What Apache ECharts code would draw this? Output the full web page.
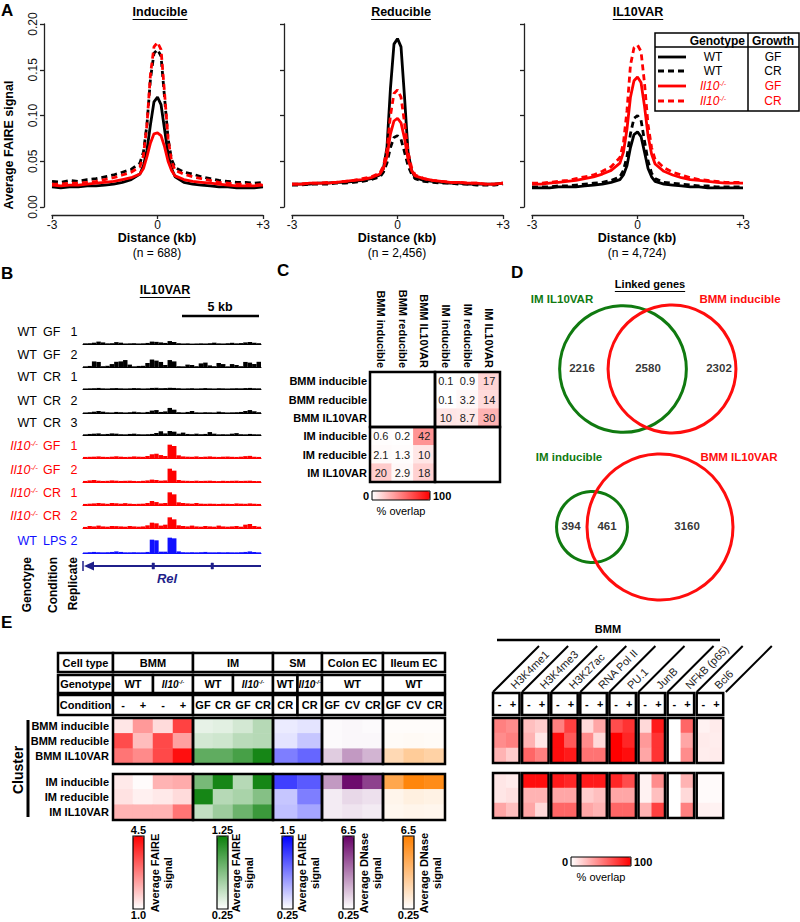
<!DOCTYPE html>
<html><head><meta charset="utf-8">
<script src="https://cdn.jsdelivr.net/npm/echarts@6/dist/echarts.min.js"></script>
<style>html,body{margin:0;padding:0;background:#fff}#c{width:800px;height:922px}</style>
</head><body><div id="c"></div>
<script>
// ---------------- DATA ----------------
// Panel A: average FAIRE profiles (distance in kb)
const distanceKb = [-3,-2.75,-2.5,-2.25,-2,-1.75,-1.5,-1.25,-1,-0.75,-0.5,-0.4,-0.3,-0.2,-0.1,0,0.1,0.2,0.3,0.4,0.5,0.75,1,1.25,1.5,1.75,2,2.25,2.5,2.75,3];
const profileNames = ['WT GF','WT CR','Il10-/- GF','Il10-/- CR'];
const panelATitles = ['Inducible','Reducible','IL10VAR'];
const panelACounts = ['(n = 688)','(n = 2,456)','(n = 4,724)'];
const inducibleWtGf = [0.022,0.021,0.022,0.022,0.023,0.023,0.024,0.025,0.027,0.03,0.036,0.045,0.062,0.09,0.115,0.12,0.112,0.085,0.058,0.042,0.033,0.027,0.025,0.024,0.023,0.022,0.022,0.021,0.021,0.021,0.022];
const inducibleWtCr = [0.028,0.027,0.029,0.028,0.03,0.031,0.033,0.035,0.038,0.041,0.048,0.06,0.09,0.14,0.168,0.172,0.165,0.12,0.075,0.052,0.043,0.038,0.036,0.033,0.031,0.029,0.028,0.027,0.027,0.026,0.027];
const inducibleKoGf = [0.024,0.023,0.024,0.024,0.025,0.026,0.027,0.028,0.03,0.032,0.036,0.042,0.055,0.07,0.08,0.081,0.078,0.066,0.05,0.04,0.034,0.03,0.028,0.027,0.026,0.025,0.024,0.023,0.023,0.023,0.024];
const inducibleKoCr = [0.025,0.025,0.026,0.026,0.027,0.028,0.03,0.032,0.035,0.038,0.044,0.056,0.09,0.145,0.175,0.18,0.172,0.125,0.075,0.05,0.04,0.036,0.033,0.031,0.029,0.027,0.026,0.025,0.025,0.024,0.025];
const reducibleWtGf = [0.025,0.025,0.025,0.026,0.026,0.027,0.027,0.028,0.029,0.031,0.035,0.042,0.065,0.13,0.178,0.184,0.175,0.12,0.06,0.04,0.032,0.029,0.028,0.027,0.026,0.026,0.025,0.025,0.025,0.025,0.026];
const reducibleWtCr = [0.024,0.024,0.025,0.025,0.025,0.026,0.026,0.027,0.028,0.03,0.033,0.038,0.048,0.065,0.076,0.078,0.074,0.06,0.045,0.036,0.031,0.028,0.027,0.026,0.026,0.025,0.025,0.024,0.024,0.024,0.025];
const reducibleKoGf = [0.025,0.025,0.026,0.026,0.026,0.027,0.028,0.029,0.03,0.032,0.036,0.042,0.055,0.08,0.094,0.097,0.092,0.075,0.052,0.04,0.034,0.031,0.029,0.028,0.027,0.027,0.026,0.026,0.025,0.025,0.026];
const reducibleKoCr = [0.025,0.025,0.026,0.026,0.027,0.027,0.028,0.029,0.031,0.033,0.037,0.045,0.062,0.1,0.124,0.128,0.12,0.092,0.06,0.043,0.035,0.031,0.029,0.028,0.027,0.027,0.026,0.026,0.025,0.025,0.026];
const il10varWtGf = [0.021,0.021,0.021,0.022,0.022,0.022,0.023,0.024,0.025,0.027,0.03,0.035,0.045,0.065,0.079,0.082,0.077,0.06,0.042,0.033,0.028,0.025,0.024,0.023,0.022,0.022,0.021,0.021,0.021,0.021,0.021];
const il10varWtCr = [0.022,0.022,0.022,0.023,0.023,0.024,0.025,0.026,0.027,0.029,0.033,0.04,0.055,0.08,0.097,0.1,0.095,0.072,0.05,0.037,0.031,0.027,0.026,0.025,0.024,0.023,0.023,0.022,0.022,0.022,0.022];
const il10varKoGf = [0.025,0.025,0.026,0.027,0.028,0.029,0.031,0.033,0.036,0.04,0.048,0.06,0.085,0.12,0.138,0.142,0.136,0.11,0.078,0.058,0.047,0.039,0.035,0.032,0.03,0.029,0.028,0.027,0.026,0.026,0.026];
const il10varKoCr = [0.026,0.026,0.027,0.028,0.029,0.031,0.033,0.035,0.039,0.044,0.054,0.07,0.105,0.155,0.174,0.177,0.17,0.135,0.09,0.065,0.052,0.043,0.038,0.035,0.032,0.03,0.029,0.028,0.027,0.027,0.027];

// Panel B: browser tracks (40 bins across the locus)
const trackGenotype = ['WT','WT','WT','WT','WT','KO','KO','KO','KO','WT'];
const trackCondition = ['GF','GF','CR','CR','CR','GF','GF','CR','CR','LPS'];
const trackReplicate = ['1','2','1','2','3','1','2','1','2','2'];
const trackWtGf1 = [0.5,0.6,1.0,1.8,1.2,0.5,0.6,1.4,1.0,0.4, 0.5,0.6,0.4,0.5,0.8,1.8,1.6,1.2,0.8,2.2, 1.5,0.6,0.4,0.5,0.3,0.4,0.5,0.4,0.6,1.0, 0.5,0.4,0.6,0.9,0.5,0.7,1.2,1.5,1.0,0.6];
const trackWtGf2 = [0.5,0.8,4.2,3.8,0.6,0.9,2.2,3.9,4.2,5.2, 1.8,0.5,0.8,0.9,3.0,5.6,4.8,3.8,1.5,5.2, 4.2,0.6,0.5,1.8,1.5,0.6,2.7,3.3,1.2,0.6, 3.0,2.2,0.5,2.2,1.5,0.6,3.8,3.3,2.2,3.9];
const trackWtCr1 = [0.4,0.5,0.6,0.8,0.5,0.4,0.6,0.7,0.5,0.4, 0.5,0.7,0.6,0.4,0.5,0.8,0.9,0.6,0.7,0.9, 0.8,0.6,0.4,0.5,0.6,0.4,0.5,0.7,0.5,0.4, 0.6,0.5,0.4,0.5,0.6,0.5,0.7,0.8,0.6,0.5];
const trackWtCr2 = [0.4,0.6,1.0,1.5,1.0,0.5,0.4,0.8,0.6,0.4, 0.6,1.0,0.6,0.4,0.8,1.8,2.2,0.8,1.2,3.8, 2.5,0.6,0.4,0.8,1.5,0.5,0.4,0.6,0.5,0.4, 1.0,0.6,0.4,0.5,0.6,0.8,1.5,2.2,1.4,0.6];
const trackWtCr3 = [0.5,0.8,1.0,1.2,0.6,0.8,1.2,1.0,0.6,0.5, 0.8,1.0,0.6,0.5,0.6,0.8,1.5,2.8,1.2,3.0, 2.5,1.0,1.8,0.8,0.6,1.0,0.6,0.8,2.2,1.0, 0.5,0.6,0.5,1.0,1.4,0.6,0.5,0.8,0.6,0.5];
const trackKoGf1 = [0.8,0.9,1.0,1.2,0.9,0.8,1.0,1.3,1.0,0.8, 0.9,1.2,1.0,0.9,1.5,2.8,3.2,2.2,1.5,10.0, 9.0,2.0,1.2,1.0,0.9,1.2,0.8,1.0,1.2,0.9, 0.8,1.0,1.1,0.9,0.8,1.0,1.4,1.6,1.0,0.8];
const trackKoGf2 = [0.8,1.2,1.5,1.0,0.8,0.9,1.2,1.0,0.8,0.9, 1.0,0.8,0.7,0.9,1.2,1.8,1.5,1.0,1.2,10.0, 8.5,1.5,1.0,0.9,0.8,1.0,0.8,0.9,1.0,0.8, 0.7,0.9,0.8,0.9,1.0,0.8,0.9,1.0,0.8,0.7];
const trackKoCr1 = [0.8,1.0,1.2,1.5,1.2,0.9,1.5,1.3,1.0,1.4, 1.0,0.8,0.9,1.0,1.5,3.0,2.2,1.2,1.5,9.5, 8.0,2.0,1.5,1.2,1.0,1.5,1.0,0.9,1.0,0.9, 0.8,1.0,0.9,0.8,1.2,1.0,0.9,1.2,1.0,0.8];
const trackKoCr2 = [0.8,1.5,1.2,1.8,1.2,1.0,1.5,1.4,1.2,1.0, 1.5,1.2,1.0,1.2,2.0,4.0,3.5,1.8,2.5,8.0, 6.5,2.0,1.5,1.2,1.8,1.2,1.0,1.5,1.2,1.0, 1.8,1.2,1.0,1.2,1.5,1.0,2.5,3.0,1.5,1.0];
const trackWtLps2 = [0.4,0.6,0.8,0.6,0.5,0.6,0.8,1.2,0.8,0.5, 0.5,0.6,0.5,0.5,0.8,10.0,9.5,1.0,1.0,11.5, 11.0,1.2,0.6,0.5,0.6,0.5,0.6,0.8,0.5,0.5, 0.6,0.5,0.6,0.5,0.5,0.6,0.8,1.2,0.8,0.5];

// Panel C: % overlap matrix
const overlapLabels = ['BMM inducible','BMM reducible','BMM IL10VAR','IM inducible','IM reducible','IM IL10VAR'];
const bmmVsImOverlap = [[0.1,0.9,17],[0.1,3.2,14],[10,8.7,30]];
const imVsBmmOverlap = [[0.6,0.2,42],[2.1,1.3,10],[20,2.9,18]];

// Panel D: linked genes venns  [only left, both, only right]
const vennOneSets = ['IM IL10VAR','BMM inducible'];
const vennOneCounts = [2216, 2580, 2302];
const vennTwoSets = ['IM inducible','BMM IL10VAR'];
const vennTwoCounts = [394, 461, 3160];

// Panel E: cluster heatmaps
const clusterRows = ['BMM inducible','BMM reducible','BMM IL10VAR','IM inducible','IM reducible','IM IL10VAR'];
const cellTypes = ['BMM','IM','SM','Colon EC','Ileum EC'];
const conditionBMM = ['-','+','-','+'];
const conditionIM = ['GF','CR','GF','CR'];
const conditionSM = ['CR','CR'];
const conditionColon = ['GF','CV','CR'];
const conditionIleum = ['GF','CV','CR'];
const bmmFaireValues = [[1.35,2.4,1.5,3.6],[3.45,1.9,3.5,2.3],[2.9,2.6,3.5,4.3],[1.3,1.05,2.05,2.15],[1.4,1.2,1.3,1.5],[2.05,2.05,2.05,2.9]];
const imFaireValues = [[0.35,0.37,0.43,0.55],[0.43,0.45,0.53,0.55],[0.9,0.9,1.0,1.2],[0.8,1.2,0.55,1.2],[1.2,0.55,0.6,0.75],[0.5,0.65,0.85,1.05]];
const smFaireValues = [[0.35,0.38],[0.38,0.53],[0.88,1.0],[1.19,1.06],[0.53,0.88],[0.56,0.69]];
const colonDnaseValues = [[0.38,0.44,0.38],[0.38,0.44,0.44],[1.5,2.75,2.1],[2.75,6.2,4.9],[0.75,1.2,1.0],[0.75,0.9,0.75]];
const ileumDnaseValues = [[0.38,0.38,0.38],[0.44,0.5,0.44],[2.1,2.75,2.45],[4.6,6.2,5.9],[0.75,1.0,0.9],[0.63,0.75,0.69]];
const scaleRanges = [[1.0,4.5],[0.25,1.25],[0.25,1.5],[0.25,6.5],[0.25,6.5]];
const scaleLabels = [['4.5','1.0'],['1.25','0.25'],['1.5','0.25'],['6.5','0.25'],['6.5','0.25']];
const scaleTitles = ['Average FAIRE\nsignal','Average FAIRE\nsignal','Average FAIRE\nsignal','Average DNase\nsignal','Average DNase\nsignal'];
const chipMarks = ['H3K4me1','H3K4me3','H3K27ac','RNA Pol II','PU.1','JunB','NFkB (p65)','Bcl6'];
const chipOverlap = [
  [50,45, 25,20, 50,75, 15,35, 70,80, 15,90, 0,60, 5,8],
  [45,50, 30,10, 95,65, 45,15, 100,85, 40,80, 0,35, 8,7],
  [30,20, 60,50, 95,90, 55,55, 100,95, 35,80, 0,45, 7,8],
  [10,8, 95,95, 90,85, 90,90, 85,70, 5,45, 0,30, 2,2],
  [10,12, 30,30, 35,35, 20,25, 35,35, 5,25, 0,15, 2,2],
  [35,25, 35,15, 60,60, 35,30, 60,60, 30,75, 0,50, 6,5]
];

// ---------------- LAYOUT / HELPERS ----------------
const FF = '"Liberation Sans", Arial, Helvetica, sans-serif';
const mctx = document.createElement('canvas').getContext('2d');
function textW(t, size, weight) { mctx.font = (weight || 'normal') + ' ' + size + 'px "Liberation Sans"'; return mctx.measureText(t).width; }
const grids = [], xAxes = [], yAxes = [], series = [], visualMaps = [], G = [];
function txt(x, y, text, o) {
  o = o || {};
  const st = { text: text, fill: o.color || '#000', fontFamily: FF, fontSize: o.size || 11,
    fontWeight: o.bold ? 'bold' : 'normal', fontStyle: o.italic ? 'italic' : 'normal',
    align: o.align || 'center', verticalAlign: o.va || 'middle' };
  if (o.rich) st.rich = o.rich;
  if (o.lh) st.lineHeight = o.lh;
  G.push({ type: 'text', x: x, y: y, z: o.z || 60, silent: true, rotation: o.rot || 0, style: st });
}
function ln(x1, y1, x2, y2, o) {
  o = o || {};
  G.push({ type: 'line', z: o.z || 60, silent: true, shape: { x1: x1, y1: y1, x2: x2, y2: y2 },
    style: { stroke: o.color || '#000', lineWidth: o.w || 1, lineDash: o.dash || null } });
}
function rc(x, y, w, h, o) {
  o = o || {};
  G.push({ type: 'rect', z: o.z || 58, silent: true, shape: { x: x, y: y, width: w, height: h },
    style: { fill: o.fill || 'none', stroke: o.stroke || '#000', lineWidth: o.w == null ? 2.5 : o.w } });
}
function underlined(cx, y, text, size) {
  txt(cx, y, text, { bold: 1, size: size });
  const w = textW(text, size, 'bold');
  ln(cx - w / 2, y + 7.5, cx + w / 2, y + 7.5, { w: 1.2 });
}
function koRich(color, size, weight) {
  return {
    it: { fontStyle: 'italic', fontSize: size, fill: color, fontFamily: FF, fontWeight: weight || 'normal' },
    sup: { fontStyle: 'italic', fontSize: Math.round(size * 0.6), fill: color, fontFamily: FF, fontWeight: weight || 'normal', verticalAlign: 'top' }
  };
}
const KO = '{it|Il10}{sup|-/-}';
const hiddenAxis = { show: true, axisLine: { show: false }, axisTick: { show: false }, axisLabel: { show: false }, splitLine: { show: false }, splitArea: { show: false } };
function addGrid(g, xa, ya) {
  const gi = grids.length;
  grids.push(Object.assign({ containLabel: false, outerBoundsMode: 'none' }, g));
  xAxes.push(Object.assign({ gridIndex: gi }, xa));
  yAxes.push(Object.assign({ gridIndex: gi }, ya));
  return gi;
}
function heatGrid(left, top, width, height, ncol, rowLabels, showRows, data) {
  const gi = addGrid({ left: left, top: top, width: width, height: height },
    Object.assign({}, hiddenAxis, { type: 'category', data: Array.from({ length: ncol }, (_, i) => i) }),
    Object.assign({}, hiddenAxis, { type: 'category', inverse: true, data: rowLabels,
      axisLabel: { show: showRows, fontFamily: FF, fontWeight: 'bold', fontSize: 11, color: '#000', margin: 4, interval: 0 } }));
  series.push({ type: 'heatmap', xAxisIndex: gi, yAxisIndex: gi, data: data, silent: true, itemStyle: { borderWidth: 0 } });
  return series.length - 1;
}
function vmap(seriesIdx, min, max, color, left, top, orient, w, h) {
  visualMaps.push({ type: 'continuous', show: true, min: min, max: max, seriesIndex: seriesIdx, inRange: { color: ['#ffffff', color] },
    orient: orient, left: left, top: top, itemWidth: w, itemHeight: h, text: null, calculable: false, padding: 0, hoverLink: false });
}

// ---------------- PANEL A ----------------
txt(1, 10, 'A', { bold: 1, size: 17, align: 'left' });
const panelAProfiles = [
  [inducibleWtGf, inducibleWtCr, inducibleKoGf, inducibleKoCr],
  [reducibleWtGf, reducibleWtCr, reducibleKoGf, reducibleKoCr],
  [il10varWtGf, il10varWtCr, il10varKoGf, il10varKoCr]
];
const profileColors = ['#000000', '#000000', '#ff0000', '#ff0000'];
const profileDash = [false, true, false, true];
const aLeft = [52, 292, 532], aTitleX = [160, 401, 638];
const axStyle = { color: '#222', width: 1.3 };
panelAProfiles.forEach((profiles, i) => {
  const gi = addGrid({ left: aLeft[i], top: 24, width: 211, height: 183 },
    { type: 'value', min: -3, max: 3, interval: 3, offset: 8,
      axisLine: { show: true, onZero: false, lineStyle: axStyle }, axisTick: { show: true, length: 4, lineStyle: axStyle },
      axisLabel: { show: true, fontFamily: FF, fontSize: 12, color: '#111', margin: 4, formatter: v => (v > 0 ? '+' + v : String(v)) },
      splitLine: { show: false } },
    { type: 'value', min: 0, max: 0.2, interval: 0.05, offset: 8,
      axisLine: { show: true, onZero: false, lineStyle: axStyle }, axisTick: { show: true, length: 4, lineStyle: axStyle },
      axisLabel: { show: i === 0, rotate: 90, fontFamily: FF, fontSize: 12, color: '#111', margin: 5, formatter: v => v.toFixed(2) },
      splitLine: { show: false } });
  profiles.forEach((vals, s) => {
    series.push({ type: 'line', name: profileNames[s], xAxisIndex: gi, yAxisIndex: gi, silent: true,
      data: distanceKb.map((x, k) => [x, vals[k]]), symbol: 'none', z: 2 + s,
      lineStyle: { color: profileColors[s], width: 2.8, type: profileDash[s] ? [6, 4] : 'solid' } });
  });
  underlined(aTitleX[i], 12, panelATitles[i], 12.5);
  const cx = aLeft[i] + 105;
  txt(cx, 238, 'Distance (kb)', { bold: 1, size: 12.5 });
  txt(cx, 253, panelACounts[i], { size: 12 });
});
txt(9, 145, 'Average FAIRE signal', { bold: 1, size: 12.5, rot: Math.PI / 2 });
// legend table
rc(655, 33, 144, 78, { w: 1.5 });
ln(655, 47, 799, 47, { w: 1.5 });
ln(748, 33, 748, 111, { w: 1.5 });
txt(745, 41, 'Genotype', { bold: 1, size: 12, align: 'right' });
txt(773, 41, 'Growth', { bold: 1, size: 12 });
const legY = [57, 71, 86, 101];
profileNames.forEach((nm, s) => {
  ln(658, legY[s], 686, legY[s], { color: profileColors[s], w: 2.8, dash: profileDash[s] ? [6, 4] : null });
  if (s < 2) txt(713, legY[s], 'WT', { size: 12, color: profileColors[s] });
  else txt(713, legY[s], KO, { size: 12, color: profileColors[s], rich: koRich('#ff0000', 12) });
  txt(773, legY[s], nm.split(' ').pop(), { size: 12, color: profileColors[s] });
});

// ---------------- PANEL B ----------------
txt(1, 273, 'B', { bold: 1, size: 17, align: 'left' });
underlined(165, 290, 'IL10VAR', 12.5);
txt(220, 307, '5 kb', { bold: 1, size: 12.5 });
ln(182, 316, 259, 316, { w: 2.5 });
const tracks = [trackWtGf1, trackWtGf2, trackWtCr1, trackWtCr2, trackWtCr3, trackKoGf1, trackKoGf2, trackKoCr1, trackKoCr2, trackWtLps2];
const trackBase = [344, 367, 389, 413, 435, 458, 482, 505, 528, 553];
tracks.forEach((vals, t) => {
  const color = t === 9 ? '#1010ff' : (t >= 5 ? '#ff0000' : '#000000');
  const gi = addGrid({ left: 83, top: trackBase[t] - 16, width: 178, height: 16 },
    { type: 'category', data: vals.map((_, i) => i), boundaryGap: true, axisLine: { show: true, lineStyle: { color: color, width: 1 } },
      axisTick: { show: false }, axisLabel: { show: false }, splitLine: { show: false } },
    Object.assign({}, hiddenAxis, { type: 'value', min: 0, max: 12 }));
  series.push({ type: 'bar', xAxisIndex: gi, yAxisIndex: gi, data: vals, barCategoryGap: '0%', barGap: '0%', silent: true,
    itemStyle: { color: color } });
  const ly = trackBase[t] - 12;
  if (trackGenotype[t] === 'WT') txt(37, ly, 'WT', { size: 12.5, color: color, align: 'right' });
  else txt(38, ly, KO, { size: 12.5, color: color, align: 'right', rich: koRich(color, 12.5) });
  txt(43, ly, trackCondition[t], { size: 12.5, color: color, align: 'left' });
  txt(74, ly, trackReplicate[t], { size: 12.5, color: color });
});
const geneColor = '#1f1f8a';
ln(261, 566, 88, 566, { w: 2.2, color: geneColor });
G.push({ type: 'polygon', z: 60, silent: true, shape: { points: [[84, 566], [94, 561.5], [94, 570.5]] }, style: { fill: geneColor } });
ln(83, 561, 83, 571, { w: 1.5, color: geneColor });
rc(152, 563, 2.5, 6, { fill: geneColor, stroke: geneColor, w: 0.5 });
rc(211, 563, 2.5, 6, { fill: geneColor, stroke: geneColor, w: 0.5 });
txt(167, 578, 'Rel', { bold: 1, italic: 1, size: 13, color: geneColor });
txt(27, 557, 'Genotype', { bold: 1, size: 12, rot: Math.PI / 2, align: 'right' });
txt(53, 557, 'Condition', { bold: 1, size: 12, rot: Math.PI / 2, align: 'right' });
txt(73, 557, 'Replicate', { bold: 1, size: 12, rot: Math.PI / 2, align: 'right' });

// ---------------- PANEL C ----------------
txt(277, 270, 'C', { bold: 1, size: 17, align: 'left' });
const cData = [];
bmmVsImOverlap.forEach((row, r) => row.forEach((v, c) => cData.push([3 + c, r, v])));
imVsBmmOverlap.forEach((row, r) => row.forEach((v, c) => cData.push([c, 3 + r, v])));
const cGi = addGrid({ left: 370, top: 372, width: 130, height: 110 },
  { type: 'category', data: overlapLabels, position: 'top', axisLine: { show: false }, axisTick: { show: false }, splitLine: { show: false },
    axisLabel: { show: true, rotate: 90, interval: 0, fontFamily: FF, fontWeight: 'bold', fontSize: 11, color: '#000', margin: 4 } },
  { type: 'category', data: overlapLabels, inverse: true, axisLine: { show: false }, axisTick: { show: false }, splitLine: { show: false },
    axisLabel: { show: true, interval: 0, fontFamily: FF, fontWeight: 'bold', fontSize: 11, color: '#000', margin: 3 } });
series.push({ type: 'heatmap', xAxisIndex: cGi, yAxisIndex: cGi, data: cData, silent: true,
  label: { show: true, formatter: p => String(p.value[2]), fontFamily: FF, fontSize: 11, color: '#222' } });
const cSeries = series.length - 1;
rc(370, 372, 65, 55); rc(435, 372, 65, 55); rc(370, 427, 65, 55); rc(435, 427, 65, 55);
vmap([cSeries], 0, 100, '#ff0000', 372, 491, 'horizontal', 9, 58);
rc(372, 491, 58, 9, { w: 1 });
txt(369, 496, '0', { size: 11, align: 'right', bold: 1 });
txt(433, 496, '100', { size: 11, align: 'left', bold: 1 });
txt(401, 511, '% overlap', { size: 11 });

// ---------------- PANEL D ----------------
txt(511, 272, 'D', { bold: 1, size: 17, align: 'left' });
underlined(650, 284, 'Linked genes', 11);
const vGi = addGrid({ left: 520, top: 280, width: 280, height: 340 },
  Object.assign({}, hiddenAxis, { type: 'value', min: 0, max: 280 }),
  Object.assign({}, hiddenAxis, { type: 'value', min: 0, max: 340, inverse: true }));
const vennLayout = [
  { counts: vennOneCounts, sets: vennOneSets, cy: 89, cx: [103, 152], scale: 0.915, numX: [62, 128, 199], labY: 299, labX: [562, 740] },
  { counts: vennTwoCounts, sets: vennTwoSets, cy: 247, cx: [72, 140], scale: 1.213, numX: [51, 87, 167], labY: 457, labX: [569, 739] }
];
const vennColors = ['#107a10', '#ff0d0d'];
vennLayout.forEach(v => {
  const setSizes = [v.counts[0] + v.counts[1], v.counts[1] + v.counts[2]];
  setSizes.forEach((sz, k) => {
    series.push({ type: 'scatter', xAxisIndex: vGi, yAxisIndex: vGi, silent: true, z: 3,
      data: [[v.cx[k], v.cy, sz]], symbol: 'circle', symbolSize: val => 2 * v.scale * Math.sqrt(val[2]),
      itemStyle: { color: 'rgba(0,0,0,0)', borderColor: vennColors[k], borderWidth: 3, opacity: 1 } });
    txt(v.labX[k], v.labY, v.sets[k], { bold: 1, size: 11.5, color: vennColors[k] });
  });
  series.push({ type: 'scatter', xAxisIndex: vGi, yAxisIndex: vGi, silent: true, z: 4, symbolSize: 1,
    data: v.counts.map((c, k) => [v.numX[k], v.cy - 1, c]), itemStyle: { color: 'rgba(0,0,0,0)' },
    label: { show: true, position: 'inside', formatter: p => String(p.value[2]), fontFamily: FF, fontWeight: 'bold', fontSize: 11.5, color: '#000' } });
});

// ---------------- PANEL E (left) ----------------
txt(1, 622, 'E', { bold: 1, size: 17, align: 'left' });
const leftData = [bmmFaireValues, imFaireValues, smFaireValues, colonDnaseValues, ileumDnaseValues];
const leftCond = [conditionBMM, conditionIM, conditionSM, conditionColon, conditionIleum];
const leftGeno = [[['WT', 0, 2], ['KO', 2, 4]], [['WT', 0, 2], ['KO', 2, 4]], [['WT', 0, 1], ['KO', 1, 2]], [['WT', 0, 3]], [['WT', 0, 3]]];
const leftX = [[113, 193], [193, 273], [273, 322], [322, 383], [383, 445]];
const leftColors = ['#ff0000', '#0a800a', '#0000ff', '#660066', '#ff8000'];
const barX = [133, 217, 282, 343, 403];
const barTitleX = [161, 242, 308, 370, 430];
const rowTop = [653, 675, 695], rowH = [19, 18, 20];
['Cell type', 'Genotype', 'Condition'].forEach((t, r) => { rc(58, rowTop[r], 55, rowH[r], { fill: '#fff' }); txt(85.5, rowTop[r] + rowH[r] / 2, t, { bold: 1, size: 11 }); });
leftData.forEach((vals, g) => {
  const x0 = leftX[g][0], x1 = leftX[g][1], w = x1 - x0, ncol = vals[0].length, cw = w / ncol;
  rc(x0, rowTop[0], w, rowH[0], { fill: '#fff' });
  txt(x0 + w / 2, rowTop[0] + rowH[0] / 2, cellTypes[g], { bold: 1, size: 11 });
  leftGeno[g].forEach(gs => {
    const gx = x0 + gs[1] * cw, gw = (gs[2] - gs[1]) * cw;
    rc(gx, rowTop[1], gw, rowH[1], { fill: '#fff' });
    if (gs[0] === 'WT') txt(gx + gw / 2, rowTop[1] + rowH[1] / 2, 'WT', { bold: 1, size: 11 });
    else txt(gx + gw / 2, rowTop[1] + rowH[1] / 2, KO, { bold: 1, size: 10, rich: koRich('#000', 10, 'bold') });
  });
  if (g === 2) leftCond[g].forEach((c, k) => rc(x0 + k * cw, rowTop[2], cw, rowH[2], { fill: '#fff' }));
  else rc(x0, rowTop[2], w, rowH[2], { fill: '#fff' });
  leftCond[g].forEach((c, k) => txt(x0 + (k + 0.5) * cw, rowTop[2] + rowH[2] / 2, c, { bold: 1, size: 11 }));
  const idx = [];
  [0, 1].forEach(b => {
    const top = b === 0 ? 718 : 774;
    const data = [];
    for (let r = 0; r < 3; r++) for (let c = 0; c < ncol; c++) data.push([c, r, vals[b * 3 + r][c]]);
    idx.push(heatGrid(x0, top, w, 46, ncol, clusterRows.slice(b * 3, b * 3 + 3), g === 0, data));
    rc(x0, top, w, 46);
  });
  vmap(idx, scaleRanges[g][0], scaleRanges[g][1], leftColors[g], barX[g], 836, 'vertical', 11, 73);
  rc(barX[g], 836, 11, 73, { w: 1.2 });
  txt(barX[g] + 5.5, 830, scaleLabels[g][0], { size: 11, bold: 1 });
  txt(barX[g] + 5.5, 915, scaleLabels[g][1], { size: 11, bold: 1 });
  txt(barTitleX[g], 873, scaleTitles[g], { size: 11, bold: 1, rot: Math.PI / 2, lh: 13 });
});
txt(18, 770, 'Cluster', { bold: 1, size: 14, rot: Math.PI / 2 });
ln(28, 720, 28, 817, { w: 3 });

// ---------------- PANEL E (right) ----------------
txt(608, 629, 'BMM', { bold: 1, size: 11 });
ln(497, 640, 720, 640, { w: 2.5 });
const gStep = 29.1, gW = 26.5, gLeft = 493;
for (let i = 0; i <= chipMarks.length; i++) { const bx = gLeft + gStep * i; ln(bx, 692, bx + 46, 646, { w: 2 }); }
const rightIdx = [];
chipMarks.forEach((m, g) => {
  const gl = gLeft + gStep * g;
  txt(gl + 19.5, 687, m, { size: 11, align: 'left', rot: Math.PI / 4, color: '#222' });
  rc(gl, 693, gW, 22, { fill: '#fff' });
  txt(gl + gW * 0.25, 704, '-', { bold: 1, size: 11 });
  txt(gl + gW * 0.75, 704, '+', { bold: 1, size: 11 });
  [0, 1].forEach(b => {
    const top = b === 0 ? 718 : 773;
    const data = [];
    for (let r = 0; r < 3; r++) for (let c = 0; c < 2; c++) data.push([c, r, chipOverlap[b * 3 + r][g * 2 + c]]);
    rightIdx.push(heatGrid(gl, top, gW, 45, 2, clusterRows.slice(b * 3, b * 3 + 3), false, data));
    rc(gl, top, gW, 45);
  });
});
vmap(rightIdx, 0, 100, '#ff0000', 571, 857, 'horizontal', 9, 60);
rc(571, 857, 60, 9, { w: 1 });
txt(568, 862, '0', { size: 11, align: 'right', bold: 1 });
txt(634, 862, '100', { size: 11, align: 'left', bold: 1 });
txt(601, 877, '% overlap', { size: 11 });

// ---------------- RENDER ----------------
const chart = echarts.init(document.getElementById('c'), null, { renderer: 'svg', width: 800, height: 922 });
chart.setOption({
  backgroundColor: '#ffffff',
  animation: false,
  textStyle: { fontFamily: FF },
  grid: grids, xAxis: xAxes, yAxis: yAxes, series: series, visualMap: visualMaps,
  graphic: { elements: G }
});
</script></body></html>
